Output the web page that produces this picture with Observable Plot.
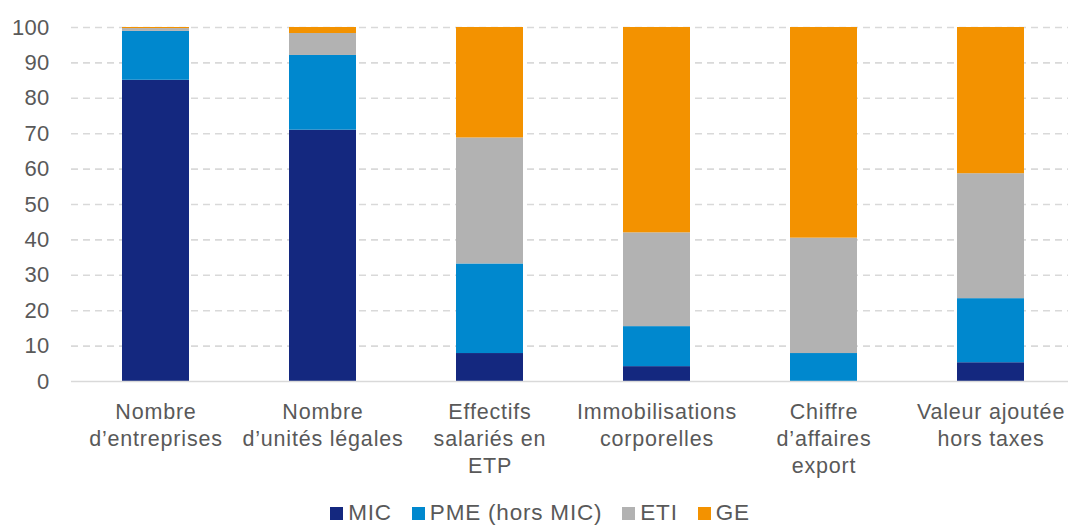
<!DOCTYPE html>
<html>
<head>
<meta charset="utf-8">
<script src="https://cdn.jsdelivr.net/npm/d3@7"></script>
<script src="https://cdn.jsdelivr.net/npm/@observablehq/plot@0.6"></script>
<style>
  html, body { margin: 0; padding: 0; background: #fff; }
  body { width: 1071px; font-family: "Liberation Sans", Arial, sans-serif; }
  #legend { display: flex; justify-content: center; margin-top: 11px; font-size: 22.5px; line-height: 24px; letter-spacing: 0.8px; color: #595959; padding-left: 9px; }
  #legend .item { display: flex; align-items: center; margin: 0 10px; }
  #legend .sw { width: 13px; height: 13px; margin-right: 5px; }
  .x-labels text { letter-spacing: 0.8px; }
  .y-labels text { letter-spacing: 0.3px; }
</style>
</head>
<body>
<div id="chart"></div>
<div id="legend"></div>
<script>
// Category labels (multi-line) and share of each company size class (%)
const categories = [
  "Nombre\nd’entreprises",
  "Nombre\nd’unités légales",
  "Effectifs\nsalariés en\nETP",
  "Immobilisations\ncorporelles",
  "Chiffre\nd’affaires\nexport",
  "Valeur ajoutée\nhors taxes"
];
const series = ["MIC", "PME (hors MIC)", "ETI", "GE"];
const colors = ["#14287F", "#0088CE", "#B2B2B2", "#F39200"];
const mic = [85.1, 71.0, 7.9, 4.2, 0.0, 5.3];
const pme = [13.8, 21.1, 25.3, 11.3, 7.9, 18.1];
const eti = [0.8, 6.2, 35.6, 26.5, 32.6, 35.3];
const ge  = [0.3, 1.7, 31.2, 58.0, 59.5, 41.3];
const yTicks = [0, 10, 20, 30, 40, 50, 60, 70, 80, 90, 100];

const valuesBySeries = [mic, pme, eti, ge];
const rows = [];
categories.forEach((c, i) => {
  series.forEach((s, j) => rows.push({category: c, series: s, value: valuesBySeries[j][i]}));
});

const chart = Plot.plot({
  width: 1071,
  height: 490,
  marginTop: 27,
  marginBottom: 109,
  marginLeft: 74,
  marginRight: 0,
  style: {fontFamily: "'Liberation Sans', Arial, sans-serif", fontSize: "21px", color: "#595959", background: "#fff"},
  x: {domain: categories, paddingInner: 0.6, paddingOuter: 0.28, label: null},
  y: {domain: [0, 100], label: null},
  color: {domain: series, range: colors},
  marks: [
    Plot.ruleY(yTicks.filter(d => d > 0), {stroke: "#D9D9D9", strokeWidth: 1.6, strokeDasharray: "7,5", dx: -3}),
    Plot.barY(rows, {x: "category", y: "value", fill: "series"}),
    Plot.ruleY([0], {stroke: "#D9D9D9", strokeWidth: 1.6, dx: -3}),
    Plot.axisY({ticks: yTicks, tickSize: 0, tickPadding: 25, fill: "#595959", fontSize: 22, className: "y-labels"}),
    Plot.axisX({tickSize: 0, tickPadding: 18, lineAnchor: "top", lineHeight: 1.27, fill: "#595959", fontSize: 21.5, className: "x-labels"})
  ]
});
document.getElementById("chart").appendChild(chart);

const legend = document.getElementById("legend");
series.forEach((s, j) => {
  const item = document.createElement("div");
  item.className = "item";
  const sw = document.createElement("div");
  sw.className = "sw";
  sw.style.background = colors[j];
  const label = document.createElement("span");
  label.textContent = s;
  item.appendChild(sw);
  item.appendChild(label);
  legend.appendChild(item);
});
</script>
</body>
</html>
